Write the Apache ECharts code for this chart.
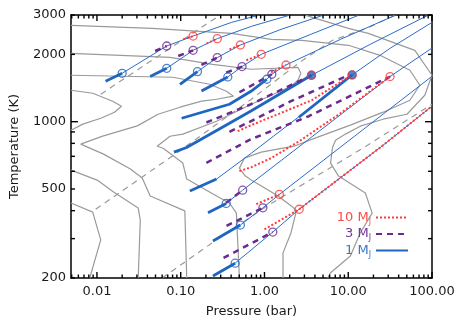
<!DOCTYPE html>
<html>
<head>
<meta charset="utf-8">
<script src="https://cdn.jsdelivr.net/npm/echarts@6.0.0/dist/echarts.min.js"></script>
<style>
  html, body { margin: 0; padding: 0; background: #fff; }
  #chart { width: 458px; height: 327px; }
</style>
</head>
<body>
<div id="chart"></div>
<script>
// pressure in bar, temperature in K
var pMajor = [0.01, 0.1, 1, 10, 100];
var pLabels = ['0.01', '0.10', '1.00', '10.00', '100.00'];
var tLabelValues = [200, 500, 1000, 2000, 3000];
var tMajor = [1000];
var tMinor = [200, 300, 400, 500, 600, 700, 800, 900, 2000, 3000];
var mantissas = [2, 3, 4, 5, 6, 7, 8, 9];
var pRange = [0.0049, 100];
var tRange = [200, 3000];

// grey contours
var greySolid = [
  [[0.0049,433],[0.0089,394],[0.0111,296],[0.0082,200]],
  [[0.0049,1382],[0.0089,1340],[0.0154,1235],[0.0196,1173],[0.0162,1103],[0.0111,1036],[0.00678,975],[0.0049,916]],
  [[0.0049,607],[0.01005,548],[0.0158,485],[0.0231,442],[0.0311,411],[0.0329,363],[0.0311,200]],
  [[0.0049,1613],[0.0808,1580],[0.2216,1470],[0.352,1368],[0.426,1300],[0.268,1260],[0.178,1235],[0.098,1161],[0.0537,1080],[0.0303,958],[0.0117,862],[0.0064,794],[0.012,716],[0.0251,614],[0.0347,560],[0.0432,465],[0.112,399],[0.118,200]],
  [[0.0049,2022],[0.0745,1941],[0.2405,1806],[0.697,1716],[2.505,1751],[2.72,1646],[2.505,1532],[2.07,1440],[0.697,1197],[0.268,1005],[0.106,880],[0.0745,861],[0.0523,777],[0.0617,761],[0.106,653],[0.118,554],[0.268,465],[0.382,433],[0.462,390],[0.502,200]],
  [[0.0049,2697],[0.0456,2615],[0.404,2484],[1.2,2335],[2.794,2312],[10.06,2196],[24,1981],[54.5,1698],[71.5,1455],[54.5,1247],[26.1,1103],[10.6,965],[4.32,853],[2.247,777],[0.914,731],[0.575,687],[0.502,620],[0.591,571],[0.697,548],[1.452,465],[2.247,411],[2.37,390],[2.07,318],[1.665,259],[1.665,200]],
  [[3.115,2988],[10.06,2615],[17.34,2484],[62.4,2085],[100,1613],[82,1313],[50.2,1080],[26.1,1026],[13.9,955],[9.27,880],[7.055,827],[6.5,769],[6.15,653],[7.66,571],[16,480],[19.3,390],[13.9,318],[10.6,251],[6.15,211],[5.67,200]]
];
var greyDashed = [
  [[0.0111,1327],[0.291,2988]],
  [[0.00966,406],[0.0853,715],[0.697,1260],[2.72,1858],[6.5,2312],[16.6,2615],[36,2988]],
  [[0.06,200],[0.266,296],[1.1,422],[16.3,777],[100,1197]]
];

// 1 MJ: thin adiabats, thick atmospheres
var thinBlue = [
  [[0.0200,1646],[0.0681,2180],[0.1406,2415],[0.404,2781],[0.842,2988]],
  [[0.0681,1733],[0.1406,2085],[0.2733,2352],[0.697,2669],[1.961,2988]],
  [[0.1585,1675],[0.2733,1935],[0.5155,2203],[1.577,2588],[4.95,2988]],
  [[0.365,1585],[0.540,1764],[0.914,2001],[3.57,2458],[13.2,2988]],
  [[1.067,1548],[1.224,1630],[1.806,1793],[8.09,2335],[36.2,2988]],
  [[3.64,1613],[18.3,2218],[88.9,2988]],
  [[0.268,554],[0.697,723],[2.72,1069],[11.12,1618],[31.6,2129],[100,2781]],
  [[0.349,431],[0.549,494],[31.6,1592],[100,2136]],
  [[0.5155,345],[0.957,412],[1.506,473],[100,1596]],
  [[0.4466,233],[1.257,321],[2.596,406],[25.2,777],[100,1173]]
];
var thickBlue = [
  [[0.01267,1516],[0.0200,1646]],
  [[0.0432,1592],[0.0681,1733]],
  [[0.0979,1470],[0.1585,1675]],
  [[0.1768,1372],[0.365,1585]],
  [[0.1025,1036],[0.382,1197],[0.690,1368],[1.067,1548]],
  [[0.0831,731],[0.1175,767],[0.382,985],[0.690,1117],[3.64,1613]],
  [[2.575,1047],[11.12,1618]],
  [[0.1285,490],[0.268,554]],
  [[0.2116,392],[0.349,431]],
  [[0.2425,293],[0.5155,345]],
  [[0.2425,204],[0.4466,233]]
];
// 3 MJ
var dashedPurple = [
  [[0.0495,2071],[0.0681,2180]],
  [[0.0934,1967],[0.1406,2085]],
  [[0.1768,1793],[0.2733,1935]],
  [[0.349,1658],[0.540,1764]],
  [[0.502,1354],[1.224,1630]],
  [[0.2026,992],[0.690,1197],[3.64,1613]],
  [[0.382,901],[2.07,1235],[10.06,1613]],
  [[0.2026,655],[0.690,835],[3.38,1058],[31.6,1592]],
  [[0.349,434],[0.549,494]],
  [[0.352,342],[0.957,412]],
  [[0.3245,246],[1.257,321]]
];
// 10 MJ
var dottedRed = [
  [[0.107,2335],[0.1406,2415]],
  [[0.2026,2234],[0.2733,2352]],
  [[0.382,2107],[0.5155,2203]],
  [[0.607,1882],[0.914,2001]],
  [[1.2,1663],[1.806,1793]],
  [[0.479,907],[0.697,965],[3.67,1247],[6.15,1411],[11.12,1618]],
  [[0.502,601],[0.697,626],[1.2,687],[2.72,827],[8.09,1091],[31.6,1592]],
  [[0.798,428],[1.506,473]],
  [[1.0,330],[2.596,406],[25.2,777],[100,1173]]
];
// radiative-convective boundaries
var rcbBlue = [[0.0200,1646],[0.0681,1733],[0.1585,1675],[0.365,1585],[1.067,1548],[0.349,431],[0.5155,345],[0.4466,233]];
var rcbBlueFilled = [[3.64,1613],[11.12,1618]];
var rcbPurple = [[0.0681,2180],[0.1406,2085],[0.2733,1935],[0.540,1764],[1.224,1630],[0.549,494],[0.957,412],[1.257,321]];
var rcbRed = [[0.1406,2415],[0.2733,2352],[0.5155,2203],[0.914,2001],[1.806,1793],[3.64,1613],[11.12,1618],[31.6,1592],[1.506,473],[2.596,406]];

var FONT = 'DejaVu Sans';
var RED = '#ff3b3b', PURPLE = '#6a2a90', BLUE = '#1f66c0', THIN = '#2a6cc8', GREY = '#9a9a9a';
var GRID = { left: 68, right: 26, top: 15, bottom: 49 };
var W = 458, H = 327;

function lg(pts) {
  return pts.map(function (p) { return [Math.log10(p[0]), Math.log10(p[1])]; });
}
function minorOf(range) {
  var out = [];
  for (var e = -3; e <= 3; e++) {
    mantissas.forEach(function (m) {
      var v = m * Math.pow(10, e);
      if (v >= range[0] && v <= range[1]) out.push(v);
    });
  }
  return out;
}
var xMin = Math.log10(pRange[0]), xMax = Math.log10(pRange[1]);
var yMin = Math.log10(tRange[0]), yMax = Math.log10(tRange[1]);
// axis units per screen pixel, for tick lengths
var xPerPx = (xMax - xMin) / (W - GRID.left - GRID.right);
var yPerPx = (yMax - yMin) / (H - GRID.top - GRID.bottom);

function axisBase(min, max, pos) {
  return {
    type: 'value', position: pos, min: min, max: max,
    axisLine: { show: true, onZero: false, lineStyle: { color: '#000', width: 1.5 } },
    axisTick: { show: false },
    axisLabel: { show: false },
    splitLine: { show: false }
  };
}
var xBottom = axisBase(xMin, xMax, 'bottom');
xBottom.axisLabel = {
  show: true, customValues: pMajor.map(Math.log10), margin: 7, fontSize: 13, fontFamily: FONT, color: '#1a1a1a',
  formatter: function (v) { return pLabels[Math.round(v) + 2]; }
};
xBottom.name = 'Pressure (bar)';
xBottom.nameLocation = 'middle';
xBottom.nameGap = 27;
xBottom.nameTextStyle = { fontSize: 13, fontFamily: FONT, color: '#1a1a1a' };
var yLeft = axisBase(yMin, yMax, 'left');
yLeft.axisLabel = {
  show: true, customValues: tLabelValues.map(Math.log10), margin: 5, fontSize: 13, fontFamily: FONT, color: '#1a1a1a',
  formatter: function (v) { return String(Math.round(Math.pow(10, v))); }
};
yLeft.name = 'Temperature (K)';
yLeft.nameLocation = 'middle';
yLeft.nameGap = 50;
yLeft.nameTextStyle = { fontSize: 13, fontFamily: FONT, color: '#1a1a1a' };

var series = [];
function addLines(list, name, style, z) {
  list.forEach(function (pts) {
    series.push({ type: 'line', name: name, data: lg(pts), symbol: 'none', showSymbol: false,
      lineStyle: style, z: z, silent: true, animation: false });
  });
}
addLines(greySolid, 'grey', { color: GREY, width: 1.2 }, 1);
addLines(greyDashed, 'greyDash', { color: GREY, width: 1.2, type: [6, 5] }, 1);
addLines(thinBlue, 'adiabat', { color: THIN, width: 1 }, 2);
addLines(thickBlue, '1 MJ', { color: BLUE, width: 2.8 }, 3);
addLines(dashedPurple, '3 MJ', { color: PURPLE, width: 2.5, type: [6, 5] }, 4);
addLines(dottedRed, '10 MJ', { color: RED, width: 2, type: [2, 2] }, 5);
function addCircles(pts, color, fill) {
  series.push({ type: 'scatter', data: lg(pts), symbol: 'circle', symbolSize: 8, z: 6, silent: true,
    animation: false, itemStyle: { color: fill, borderColor: color, borderWidth: 1.3 } });
}
addCircles(rcbBlueFilled, BLUE, BLUE);
addCircles(rcbRed, RED, 'rgba(0,0,0,0)');
addCircles(rcbPurple, PURPLE, 'rgba(0,0,0,0)');
addCircles(rcbBlue, BLUE, 'rgba(0,0,0,0)');

// inward tick marks on all four sides, as short segments in axis units
function tickSeg(a, b) {
  series.push({ type: 'line', data: [a, b], symbol: 'none', showSymbol: false, clip: false, silent: true,
    animation: false, z: 10, lineStyle: { color: '#000', width: 1.4 } });
}
function pushTicks(values, isX, len) {
  values.forEach(function (v) {
    var l = Math.log10(v);
    if (isX) {
      tickSeg([l, yMin], [l, yMin + len * yPerPx]);
      tickSeg([l, yMax], [l, yMax - len * yPerPx]);
    } else {
      tickSeg([xMin, l], [xMin + len * xPerPx, l]);
      tickSeg([xMax, l], [xMax - len * xPerPx, l]);
    }
  });
}
pushTicks(pMajor, true, 6);
pushTicks(minorOf(pRange), true, 3.5);
pushTicks(tMajor, false, 7);
pushTicks(tMinor, false, 4);

var chart = echarts.init(document.getElementById('chart'));
chart.setOption({
  animation: false,
  grid: { left: GRID.left, right: GRID.right, top: GRID.top, bottom: GRID.bottom, containLabel: false },
  xAxis: [xBottom, axisBase(xMin, xMax, 'top')],
  yAxis: [yLeft, axisBase(yMin, yMax, 'right')],
  legend: {
    orient: 'vertical', right: 49, top: 211, padding: 0, align: 'right', itemWidth: 32, itemHeight: 14, itemGap: 2,
    itemStyle: { opacity: 0 },
    data: [
      { name: '10 MJ', textStyle: { color: '#ff4a4a' } },
      { name: '3 MJ', textStyle: { color: '#74389a' } },
      { name: '1 MJ', textStyle: { color: '#3a78c8' } }
    ],
    formatter: function (n) { return n.replace('MJ', 'M{j|J}'); },
    textStyle: { fontSize: 13, fontFamily: FONT, rich: { j: { fontSize: 8, padding: [8, 0, 0, 0] } } }
  },
  series: series
});
</script>
</body>
</html>
